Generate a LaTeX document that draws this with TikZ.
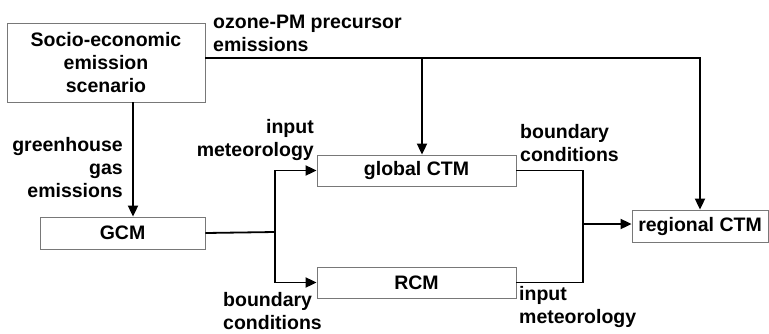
\documentclass[tikz,border=0pt]{standalone}
\usepackage{fontspec}
\setmainfont{Liberation Sans}
\usetikzlibrary{positioning, arrows.meta}
\definecolor{boxgray}{RGB}{120, 120, 120}

\tikzset{
    modelbox/.style={draw=boxgray, line width=0.8pt, inner sep=0pt, align=center,
                     font=\fontsize{19.5}{23}\selectfont\bfseries},
    flowlabel/.style={inner sep=0pt, font=\fontsize{19.5}{23}\selectfont\bfseries},
    link/.style={line width=1.8pt, line join=miter},
    feed/.style={link, -{Triangle[length=11pt, width=10pt]}}
}

\begin{document}
\begin{tikzpicture}[x=1pt, y=-1pt]
        \useasboundingbox (0,0) rectangle (769,333);
        \node[modelbox, minimum width=198pt, minimum height=79pt] (socio) at (106,62.5)
            {Socio-economic\\emission\\scenario};
        \node[modelbox, minimum width=165pt, minimum height=32pt] (gcm) at (122.5,233) {GCM};
        \node[modelbox, minimum width=199pt, minimum height=31pt] (global) at (416.5,170.5) {global CTM};
        \node[modelbox, minimum width=199pt, minimum height=31pt] (rcm) at (416.5,282.5) {RCM};
        \node[modelbox, minimum width=136pt, minimum height=32pt] (regional) at (700,226) {regional CTM};

        \coordinate (emit) at (422,58);
        \coordinate (ghg) at (133,102);
        \coordinate (fork) at (275,232);
        \coordinate (merge) at (583,224);

        \draw[feed] (socio.east |- emit) -| (regional.north);
        \draw[feed] (emit) -- (emit |- global.north);
        \draw[feed] (socio.south -| ghg) -- (gcm.north -| ghg);
        \draw[link] (gcm.east) -- (fork);
        \draw[feed] (fork) |- (global.west);
        \draw[feed] (fork) |- (rcm.west);
        \draw[link] (global.east) -| (merge) |- (rcm.east);
        \draw[feed] (merge) -- (regional.west |- merge);

        \node[flowlabel, anchor=west, align=left] (ozone) at (213,33) {ozone-PM precursor\\emissions};
        \node[flowlabel, anchor=east, align=right] (ghglabel) at (123,168) {greenhouse\\gas\\emissions};
        \node[flowlabel, anchor=east, align=right] (metglobal) at (314,140) {input\\meteorology};
        \node[flowlabel, anchor=west, align=left] (bcglobal) at (520,143) {boundary\\conditions};
        \node[flowlabel, anchor=west, align=left] (bcrcm) at (223,311) {boundary\\conditions};
        \node[flowlabel, anchor=west, align=left] (metrcm) at (519,307) {input\\meteorology};
    \end{tikzpicture}
\end{document}
